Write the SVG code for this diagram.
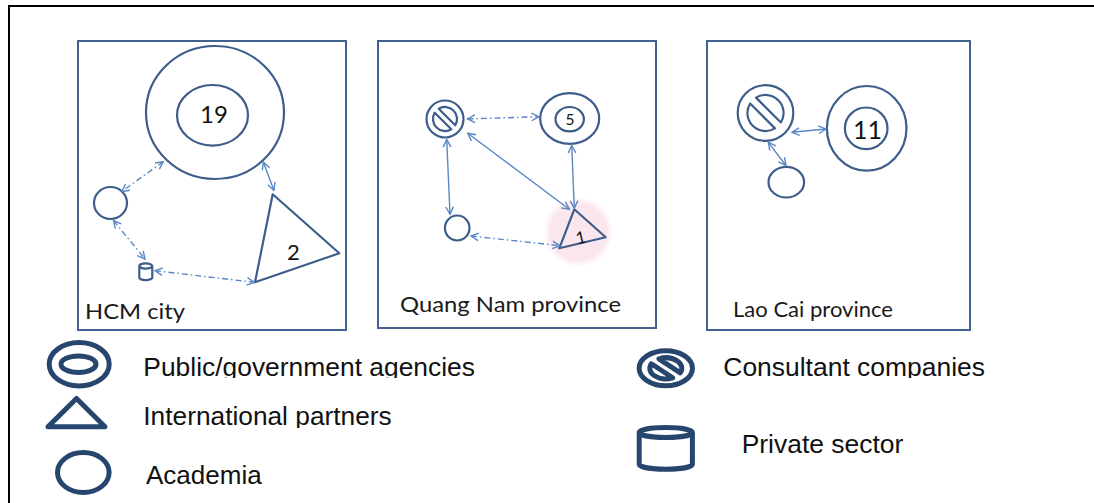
<svg xmlns="http://www.w3.org/2000/svg" width="1094" height="503" viewBox="0 0 1094 503">
  <style>
    .frame { fill: none; stroke: #000; stroke-width: 2; }
    .panel { fill: #fff; stroke: #41618f; stroke-width: 2; }
    .node { fill: none; stroke: #3d5d8a; stroke-width: 2.2; stroke-linejoin: round; }
    .icon { fill: none; stroke: #27466d; stroke-width: 5; stroke-linejoin: round; }
    .link { fill: none; stroke: #5a87c6; stroke-width: 1.4; marker-start: url(#arrow); marker-end: url(#arrow); }
    .dashdot { stroke-dasharray: 6 3 1.5 3; }
    .num { font-family: Lato, "Open Sans", sans-serif; fill: #111; text-anchor: middle; }
    .place { font-family: Lato, "Open Sans", sans-serif; font-size: 22px; fill: #1a1a1a; }
    .key { font-family: "Liberation Sans", Arial, sans-serif; font-size: 25px; fill: #111; }
  </style>
  <defs>
    <marker id="arrow" viewBox="-9 -5 10 10" refX="0" refY="0" markerWidth="10" markerHeight="10" markerUnits="userSpaceOnUse" orient="auto-start-reverse">
      <path d="M -7.5 -3.8 L 0 0 L -7.5 3.8" fill="none" stroke="#5a87c6" stroke-width="1.4"/>
    </marker>
    <radialGradient id="halo">
      <stop offset="0" stop-color="#fce6ed"/>
      <stop offset="0.8" stop-color="#fce6ed"/>
      <stop offset="1" stop-color="#fce6ed" stop-opacity="0"/>
    </radialGradient>
    <clipPath id="clipRow1"><rect x="0" y="330" width="1094" height="48"/></clipPath>
    <clipPath id="clipRow2"><rect x="0" y="395" width="1094" height="33"/></clipPath>
  </defs>

  <rect width="1094" height="503" fill="#fff"/>
  <!-- outer frame (top and left edges) -->
  <path class="frame" d="M 9 503 L 9 6 L 1094 6"/>

  <!-- region panels -->
  <g id="panel-hcm">
    <rect class="panel" x="78" y="41" width="268" height="289"/>
    <text class="place" x="85" y="318.5" textLength="100" lengthAdjust="spacingAndGlyphs">HCM city</text>
  </g>
  <g id="panel-quangnam">
    <rect class="panel" x="378" y="41" width="278" height="287"/>
    <text class="place" x="400" y="311.7" textLength="221" lengthAdjust="spacingAndGlyphs">Quang Nam province</text>
  </g>
  <g id="panel-laocai">
    <rect class="panel" x="707" y="41" width="263" height="289"/>
    <text class="place" x="733" y="316.7" textLength="160" lengthAdjust="spacingAndGlyphs">Lao Cai province</text>
  </g>

  <!-- HCM city nodes -->
  <g id="hcm-gov">
    <ellipse class="node" cx="215" cy="112.5" rx="69" ry="66.5"/>
    <ellipse class="node" cx="212.5" cy="115.3" rx="35.5" ry="30.3"/>
    <text class="num" x="214" y="123" font-size="24">19</text>
  </g>
  <g id="hcm-academia">
    <ellipse class="node" cx="110.5" cy="203" rx="16.5" ry="16"/>
  </g>
  <g id="hcm-private">
    <path class="node" d="M 139.3 266 A 6.5 2.6 0 0 1 152.3 266 A 6.5 2.6 0 0 1 139.3 266 Z M 139.3 266 L 139.3 277.5 A 6.5 2.6 0 0 0 152.3 277.5 L 152.3 266"/>
  </g>
  <g id="hcm-intl">
    <path class="node" d="M 272.7 194.3 L 339.3 253.3 L 255 282.3 Z"/>
    <text class="num" x="293.3" y="259.5" font-size="22">2</text>
  </g>

  <!-- Quang Nam nodes -->
  <g id="qn-halo">
    <circle cx="578.5" cy="232" r="35" fill="url(#halo)"/>
  </g>
  <g id="qn-consultant">
    <circle class="node" cx="445" cy="119" r="18.5" stroke-width="2.5"/>
    <path class="node" stroke-width="2.5" d="M 438.69 108.76 L 455.24 125.31 A 12.03 12.03 0 0 0 438.69 108.76 Z M 451.31 129.24 L 434.76 112.69 A 12.03 12.03 0 0 0 451.31 129.24 Z"/>
  </g>
  <g id="qn-gov">
    <ellipse class="node" cx="569.7" cy="118.5" rx="29.5" ry="25.3"/>
    <ellipse class="node" cx="569.7" cy="119.2" rx="14.2" ry="12.2"/>
    <text class="num" x="570" y="124.5" font-size="15.5">5</text>
  </g>
  <g id="qn-academia">
    <ellipse class="node" cx="457.2" cy="228" rx="12.3" ry="12.5"/>
  </g>
  <g id="qn-intl">
    <path class="node" stroke-width="2.5" d="M 574.3 209.3 L 605.7 237.3 L 559.3 248.3 Z"/>
    <text class="num" x="580.5" y="243.5" font-size="17" transform="rotate(-13 580.5 237)">1</text>
  </g>

  <!-- Lao Cai nodes -->
  <g id="lc-consultant">
    <circle class="node" cx="765.5" cy="113" r="27.8"/>
    <path class="node" d="M 756.02 97.62 L 780.88 122.48 A 18.07 18.07 0 0 0 756.02 97.62 Z M 774.98 128.38 L 750.12 103.52 A 18.07 18.07 0 0 0 774.98 128.38 Z"/>
  </g>
  <g id="lc-gov">
    <ellipse class="node" cx="866.7" cy="128.3" rx="39.8" ry="42.3"/>
    <ellipse class="node" cx="866.2" cy="128.3" rx="21.3" ry="20.8"/>
    <text class="num" x="867.5" y="138.8" font-size="25">11</text>
  </g>
  <g id="lc-academia">
    <ellipse class="node" cx="786.3" cy="182.2" rx="17.8" ry="15.3"/>
  </g>

  <!-- connectors -->
  <g id="connectors">
    <line class="link" x1="263.3" y1="162" x2="274" y2="190.5"/>
    <line class="link dashdot" x1="163.3" y1="161.7" x2="121.7" y2="191.5"/>
    <line class="link dashdot" x1="113.5" y1="220.5" x2="145" y2="259"/>
    <line class="link dashdot" x1="155" y1="270.7" x2="254.5" y2="282.3"/>

    <line class="link dashdot" x1="467.5" y1="119" x2="539" y2="116.7"/>
    <line class="link" x1="446.7" y1="139.5" x2="450" y2="214.3"/>
    <line class="link" x1="467.7" y1="133.3" x2="569.3" y2="209.3"/>
    <line class="link" x1="571.7" y1="145.5" x2="574.3" y2="208.3"/>
    <line class="link dashdot" x1="471" y1="236" x2="560" y2="245.7"/>

    <line class="link" x1="792" y1="132.3" x2="826" y2="129"/>
    <line class="link" x1="768.3" y1="142.3" x2="786" y2="165.5"/>
  </g>

  <!-- legend -->
  <g id="legend-gov">
    <ellipse class="icon" cx="79.2" cy="364.2" rx="30" ry="21.7"/>
    <ellipse class="icon" cx="78.5" cy="364.2" rx="17.5" ry="8.3"/>
    <text class="key" x="143.3" y="375.7" textLength="331.7" lengthAdjust="spacingAndGlyphs" clip-path="url(#clipRow1)">Public/government agencies</text>
  </g>
  <g id="legend-intl">
    <path class="icon" d="M 76.5 398.5 L 105 426.8 L 48 426.8 Z"/>
    <text class="key" x="143.3" y="425" textLength="248.4" lengthAdjust="spacingAndGlyphs" clip-path="url(#clipRow2)">International partners</text>
  </g>
  <g id="legend-academia">
    <ellipse class="icon" cx="83.3" cy="472.5" rx="25.8" ry="20"/>
    <text class="key" x="146" y="484" textLength="115.7" lengthAdjust="spacingAndGlyphs">Academia</text>
  </g>
  <g id="legend-consultant">
    <ellipse class="icon" cx="665.8" cy="368.3" rx="26.7" ry="17.5"/>
    <path class="icon" d="M 658.90 358.83 L 680.26 372.83 A 16.02 10.5 0 0 0 658.90 358.83 Z M 672.70 377.77 L 651.34 363.77 A 16.02 10.5 0 0 0 672.70 377.77 Z"/>
    <text class="key" x="723.3" y="375.7" textLength="261.7" lengthAdjust="spacingAndGlyphs" clip-path="url(#clipRow1)">Consultant companies</text>
  </g>
  <g id="legend-private">
    <path class="icon" d="M 639.2 432.5 A 26.6 5 0 0 1 692.4 432.5 A 26.6 5 0 0 1 639.2 432.5 Z M 639.2 432.5 L 639.2 464.2 A 26.6 5 0 0 0 692.4 464.2 L 692.4 432.5"/>
    <text class="key" x="741.7" y="453.3" textLength="161.6" lengthAdjust="spacingAndGlyphs">Private sector</text>
  </g>
</svg>
